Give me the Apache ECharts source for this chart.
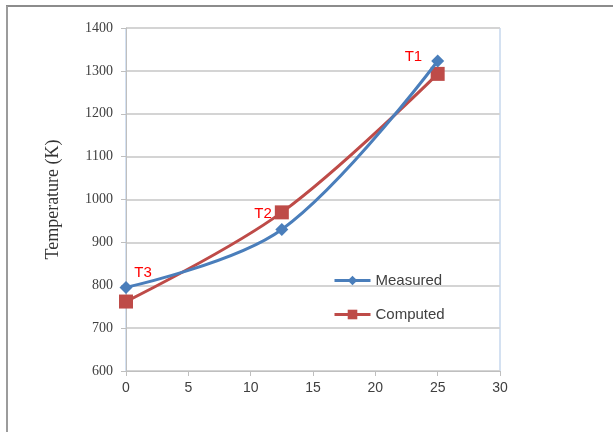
<!DOCTYPE html>
<html>
<head>
<meta charset="utf-8">
<script src="https://cdn.jsdelivr.net/npm/echarts@6/dist/echarts.min.js"></script>
<style>
  html, body { margin: 0; padding: 0; background: #fff; }
  #chart { width: 613px; height: 432px; }
</style>
</head>
<body>
<div id="chart"></div>
<script>
// distance values (x) and temperatures (K)
var positions = [0, 12.5, 25];
var measured = [795, 930, 1323];
var computed = [762, 970, 1293];
var pointNames = ['T3', 'T2', 'T1'];

var chart = echarts.init(document.getElementById('chart'));

function pairs(vals) {
  return positions.map(function (x, i) { return [x, vals[i]]; });
}

// T labels: T1, T3 sit next to measured points, T2 next to computed point
var measuredData = pairs(measured).map(function (p, i) {
  var item = { value: p };
  if (i === 0) {
    item.label = { show: true, formatter: pointNames[i], position: 'top', offset: [17, 4] };
  } else if (i === 2) {
    item.label = { show: true, formatter: pointNames[i], position: 'left', offset: [-4, -4] };
  }
  return item;
});
var computedData = pairs(computed).map(function (p, i) {
  var item = { value: p };
  if (i === 1) {
    item.label = { show: true, formatter: pointNames[i], position: 'left', offset: [2, 1] };
  }
  return item;
});

var labelStyle = { color: '#ff0000', fontSize: 15, fontFamily: 'Liberation Sans' };

var option = {
  backgroundColor: '#fff',
  animation: false,
  graphic: [
    { type: 'line', shape: { x1: 6, y1: 6, x2: 613, y2: 6 }, style: { stroke: '#8c8c8c', lineWidth: 2 } },
    { type: 'line', shape: { x1: 7, y1: 6, x2: 7, y2: 432 }, style: { stroke: '#9c9c9c', lineWidth: 2 } }
  ],
  grid: {
    show: true,
    left: 126,
    right: 113,
    top: 28,
    bottom: 61,
    borderColor: '#a9c3e4',
    borderWidth: 1,
    backgroundColor: 'rgba(0,0,0,0)'
  },
  legend: {
    orient: 'vertical',
    left: 328,
    top: 268,
    itemGap: 19,
    itemWidth: 36,
    itemHeight: 12,
    lineStyle: { width: 3 },
    textStyle: { color: '#404040', fontSize: 15, fontFamily: 'Liberation Sans' },
    data: ['Measured', 'Computed']
  },
  xAxis: {
    type: 'value',
    min: 0,
    max: 30,
    interval: 5,
    axisLine: { show: true, onZero: false, lineStyle: { color: '#bfbfbf', width: 1 } },
    axisTick: { show: true, length: 5, lineStyle: { color: '#bfbfbf' } },
    splitLine: { show: false },
    axisLabel: { color: '#404040', fontSize: 14, fontFamily: 'Liberation Sans', margin: 10 }
  },
  yAxis: {
    type: 'value',
    min: 600,
    max: 1400,
    interval: 100,
    name: 'Temperature (K)',
    nameLocation: 'middle',
    nameGap: 64,
    nameTextStyle: { color: '#333', fontSize: 18, fontFamily: 'Liberation Serif' },
    axisLine: { show: true, lineStyle: { color: '#bfbfbf', width: 1 } },
    axisTick: { show: true, length: 5, lineStyle: { color: '#bfbfbf' } },
    splitLine: { show: true, lineStyle: { color: '#d4d4d4', width: 2 } },
    axisLabel: {
      color: '#404040', fontSize: 14, fontFamily: 'Liberation Serif', margin: 13,
      formatter: function (v) { return String(v); }
    }
  },
  series: [{
    name: 'Measured',
    type: 'line',
    smooth: 0.35,
    symbol: 'diamond',
    symbolSize: 13,
    color: '#4a7ebb',
    lineStyle: { width: 3, color: '#4a7ebb' },
    itemStyle: { color: '#4a7ebb' },
    label: labelStyle,
    z: 3,
    data: measuredData
  }, {
    name: 'Computed',
    type: 'line',
    smooth: 0.35,
    symbol: 'rect',
    symbolSize: 14,
    color: '#be4b48',
    lineStyle: { width: 3, color: '#be4b48' },
    itemStyle: { color: '#be4b48' },
    label: labelStyle,
    z: 2,
    data: computedData
  }]
};

chart.setOption(option);
</script>
</body>
</html>
